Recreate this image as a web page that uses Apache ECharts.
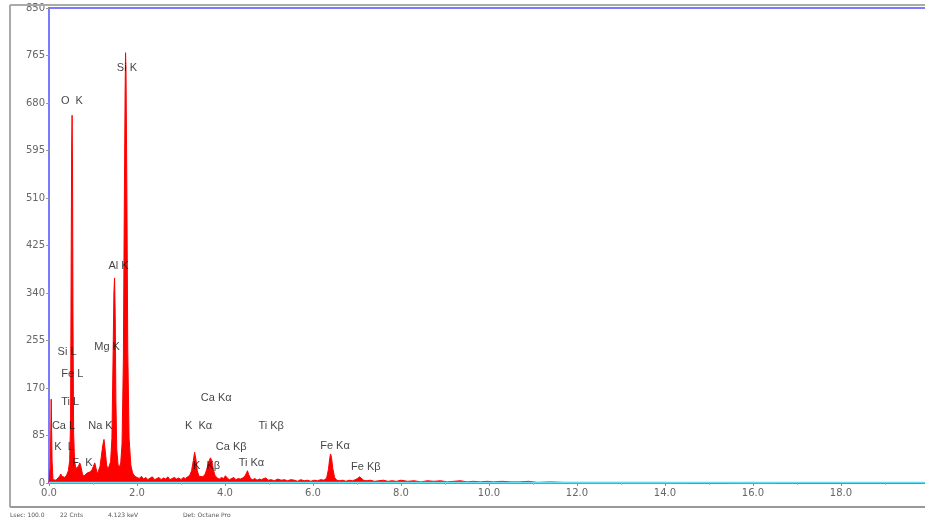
<!DOCTYPE html>
<html>
<head>
<meta charset="utf-8">
<script src="https://cdn.jsdelivr.net/npm/echarts@6/dist/echarts.min.js"></script>
<style>
html,body{margin:0;padding:0;background:#fff;}
#chart{width:925px;height:521px;}
</style>
</head>
<body>
<div id="chart"></div>
<script>
// Spectrum: energy (keV) and counts
var energy = [0.00,0.03,0.05,0.07,0.09,0.12,0.16,0.20,0.24,0.27,0.29,0.32,0.36,0.40,0.44,0.47,0.49,0.505,0.515,0.525,0.535,0.545,0.56,0.58,0.61,0.64,0.67,0.70,0.73,0.76,0.79,0.83,0.87,0.91,0.94,0.98,1.01,1.04,1.07,1.10,1.13,1.16,1.19,1.22,1.25,1.28,1.31,1.34,1.37,1.40,1.43,1.455,1.475,1.49,1.505,1.52,1.54,1.57,1.60,1.63,1.66,1.69,1.71,1.73,1.74,1.75,1.77,1.79,1.82,1.86,1.90,1.95,2.00,
2.05,2.10,2.15,2.20,2.25,2.30,2.35,2.40,2.45,2.50,2.55,2.60,2.65,2.70,2.75,2.80,2.85,2.90,2.95,3.00,3.05,3.10,3.15,3.20,3.24,3.28,3.31,3.34,3.37,3.41,3.45,3.50,3.55,3.59,3.63,3.67,3.70,3.73,3.77,3.82,3.87,3.92,3.97,4.01,4.05,4.10,4.15,4.20,4.25,4.30,4.35,4.40,4.45,4.49,4.51,4.54,4.58,4.63,4.68,4.73,4.78,4.83,4.88,4.93,4.98,5.05,5.12,5.20,5.28,5.35,5.42,5.50,5.58,5.65,5.72,5.80,5.88,5.95,6.02,6.10,6.18,6.25,6.31,6.35,6.38,6.40,6.42,6.45,6.49,6.54,6.60,6.68,6.75,6.82,6.90,6.96,7.01,7.06,7.10,7.15,7.22,7.30,7.40,7.50,7.60,7.70,7.80,7.90,8.00,8.15,8.30,8.45,8.60,8.75,8.90,9.05,9.20,9.35,9.50,9.65,9.80,9.95,10.10,10.30,10.50,10.70,10.90,11.10,11.40,11.70,12.00,12.50,13.00,14.00,15.00,16.00,17.00,18.00,19.00,20.00];
var counts = [0,30,150,40,6,4,5,8,12,16,12,9,10,14,22,40,110,420,600,658,560,300,90,40,26,24,30,36,28,16,12,14,18,15,20,24,30,36,26,16,18,30,48,66,78,56,32,24,26,38,80,220,340,367,300,150,60,32,28,36,70,220,480,700,770,740,520,240,80,32,18,12,10,
8,12,7,10,6,9,11,6,8,10,6,9,7,11,6,8,10,7,9,6,10,8,11,14,22,40,55,42,22,12,9,11,16,26,38,45,40,26,14,9,7,10,8,13,9,6,8,10,6,8,7,9,12,18,22,15,8,6,8,5,7,6,8,9,5,6,4,7,5,6,4,6,5,3,6,4,5,3,5,4,6,5,9,24,44,52,46,26,10,5,4,5,3,5,4,6,8,11,8,5,4,5,3,4,5,3,4,3,5,3,4,2,4,3,4,2,3,4,2,3,2,3,2,3,2,2,3,1,2,1,1,1,1,1,0,1,0,0,0,0];
// Background fit line
var bgEnergy = [0, 20];
var bgCounts = [1, 1];
// Peak annotations: text, energy, counts
var peakLabels = ['Si K','O  K','Al K','Mg K','Si L','Fe L','Ti L','Ca L','Na K','K  L','F  K','Ca K\u03b1','K  K\u03b1','Ti K\u03b2','Ca K\u03b2','K  K\u03b2','Ti K\u03b1','Fe K\u03b1','Fe K\u03b2'];
var peakLabelE = [1.77,0.52,1.58,1.32,0.41,0.53,0.48,0.33,1.17,0.34,0.76,3.80,3.40,5.05,4.14,3.58,4.60,6.50,7.20];
var peakLabelC = [743,684,388,243,234,195,145,102,102,64,36,152,102,102,64,30,36,66,29];
// Axis ticks
var yTickStep = 85;
var yMax = 850;
var xMax = 20;
var xTickStep = 2;
var footer = ['Lsec: 100.0', '22 Cnts', '4.123 keV', 'Det: Octane Pro'];

var specData = energy.map(function(e, i){ return [e, counts[i]]; });
var bgData = bgEnergy.map(function(e, i){ return [e, bgCounts[i]]; });
var lblData = peakLabels.map(function(t, i){ return {value:[peakLabelE[i], peakLabelC[i]], name:t}; });

var chart = echarts.init(document.getElementById('chart'), null, {renderer:'canvas'});
chart.setOption({
  animation:false,
  backgroundColor:'#fff',
  grid:{left:49, top:8, bottom:38, right:-4, containLabel:false, outerBoundsMode:'none',
    show:true, borderColor:'#7b7bff', borderWidth:2, backgroundColor:'transparent'},
  xAxis:{type:'value', min:0, max:xMax, interval:xTickStep,
    axisLine:{show:false},
    axisTick:{show:true, length:3, lineStyle:{color:'#8888cc'}},
    minorTick:{show:true, splitNumber:2, length:2, lineStyle:{color:'#aaaadd'}},
    splitLine:{show:false},
    axisLabel:{color:'#666', fontSize:10, fontFamily:'DejaVu Sans', margin:5, showMaxLabel:false, formatter:function(v){return v.toFixed(1);}}},
  yAxis:{type:'value', min:0, max:yMax, interval:yTickStep,
    axisLine:{show:false},
    axisTick:{show:true, length:3, lineStyle:{color:'#999'}},
    splitLine:{show:false},
    axisLabel:{color:'#666', fontSize:10, fontFamily:'DejaVu Sans', margin:4}},
  series:[
    {type:'line', data:specData, showSymbol:false, sampling:'none', z:2,
      lineStyle:{color:'#ff0000', width:1}, areaStyle:{color:'#ff0000', opacity:1}},
    {type:'line', data:bgData, showSymbol:false, z:3,
      lineStyle:{color:'#60e0f0', width:1.5}},
    {type:'scatter', data:lblData, symbolSize:0, z:5,
      label:{show:true, position:'inside', formatter:'{b}', color:'#111', fontSize:11, fontFamily:'Liberation Sans'}}
  ],
  graphic:[
    {type:'line', shape:{x1:10, y1:5, x2:925, y2:5}, style:{stroke:'#aaa', lineWidth:2}, z:10},
    {type:'line', shape:{x1:10, y1:5, x2:10, y2:507}, style:{stroke:'#aaa', lineWidth:2}, z:10},
    {type:'line', shape:{x1:10, y1:507, x2:925, y2:507}, style:{stroke:'#999', lineWidth:2}, z:10},
    {type:'text', left:10, top:512, style:{text:footer[0], fill:'#555', fontSize:6, fontFamily:'DejaVu Sans'}},
    {type:'text', left:60, top:512, style:{text:footer[1], fill:'#555', fontSize:6, fontFamily:'DejaVu Sans'}},
    {type:'text', left:108, top:512, style:{text:footer[2], fill:'#555', fontSize:6, fontFamily:'DejaVu Sans'}},
    {type:'text', left:183, top:512, style:{text:footer[3], fill:'#555', fontSize:6, fontFamily:'DejaVu Sans'}}
  ]
});
</script>
</body>
</html>
